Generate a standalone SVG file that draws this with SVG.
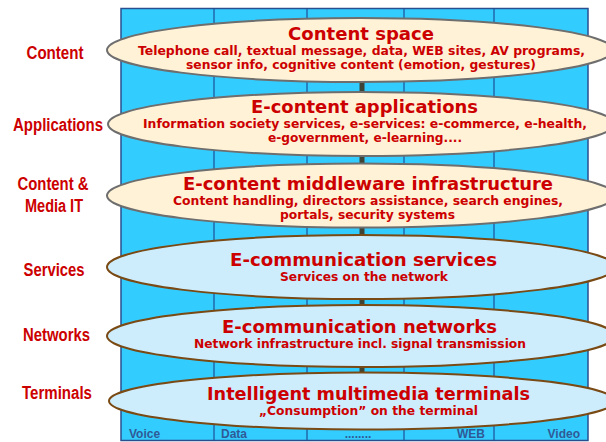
<svg xmlns="http://www.w3.org/2000/svg" width="606" height="442" viewBox="0 0 606 442">
<style>
.lbl{font-family:"Liberation Sans",Arial,sans-serif;font-weight:bold;font-size:18px;fill:#cc0000;text-anchor:middle}
.ttl{font-family:"DejaVu Sans",Verdana,sans-serif;font-weight:bold;font-size:18px;fill:#cc0000;text-anchor:middle}
.sub{font-family:"DejaVu Sans",Verdana,sans-serif;font-weight:bold;font-size:12.5px;fill:#cc0000;text-anchor:middle}
.col{font-family:"Liberation Sans",Arial,sans-serif;font-weight:bold;font-size:12px;fill:#2f5a96}
.warm{fill:#fff2d6;stroke:#6e6e6e;stroke-width:2}
.cool{fill:#cdecfc;stroke:#7a4a14;stroke-width:2}
.colline{stroke:#1f4f96;stroke-width:1.2}
.pole{stroke:#3e4536;stroke-width:5}
</style>
<rect width="606" height="442" fill="#ffffff"/>
<g id="columns">
<rect x="121" y="8.5" width="467" height="432" fill="#33ccff" stroke="#2a4f8f" stroke-width="1.5"/>
<line class="colline" x1="214" y1="8.5" x2="214" y2="441"/>
<line class="colline" x1="307" y1="8.5" x2="307" y2="441"/>
<line class="colline" x1="404" y1="8.5" x2="404" y2="441"/>
<line class="colline" x1="494" y1="8.5" x2="494" y2="441"/>
<text class="col" x="129" y="438">Voice</text>
<text class="col" x="221" y="438">Data</text>
<text class="col" x="358" y="438" text-anchor="middle">........</text>
<text class="col" x="485" y="438" text-anchor="end">WEB</text>
<text class="col" x="580" y="438" text-anchor="end">Video</text>
</g>
<g id="connectors">
<line class="pole" x1="362" y1="78" x2="362" y2="96"/>
<line class="pole" x1="362" y1="152" x2="362" y2="167"/>
<line class="pole" x1="362" y1="223" x2="362" y2="239"/>
<line class="pole" x1="362" y1="295" x2="362" y2="309"/>
<line class="pole" x1="362" y1="363" x2="362" y2="377"/>
</g>
<g id="labels">
<text class="lbl" x="55" y="59" textLength="57" lengthAdjust="spacingAndGlyphs">Content</text>
<text class="lbl" x="58" y="131" textLength="90" lengthAdjust="spacingAndGlyphs">Applications</text>
<text class="lbl" x="53" y="190" textLength="71" lengthAdjust="spacingAndGlyphs">Content &amp;</text>
<text class="lbl" x="54" y="212" textLength="58" lengthAdjust="spacingAndGlyphs">Media IT</text>
<text class="lbl" x="54" y="276" textLength="61" lengthAdjust="spacingAndGlyphs">Services</text>
<text class="lbl" x="56.5" y="341" textLength="67" lengthAdjust="spacingAndGlyphs">Networks</text>
<text class="lbl" x="57" y="399" textLength="70" lengthAdjust="spacingAndGlyphs">Terminals</text>
</g>
<g id="content-space">
<ellipse class="warm" cx="360" cy="50" rx="253" ry="32"/>
<text class="ttl" x="361" y="40" textLength="146" lengthAdjust="spacingAndGlyphs">Content space</text>
<text class="sub" x="361.5" y="55" textLength="447" lengthAdjust="spacingAndGlyphs">Telephone call, textual message, data, WEB sites, AV programs,</text>
<text class="sub" x="361" y="69" textLength="350" lengthAdjust="spacingAndGlyphs">sensor info, cognitive content (emotion, gestures)</text>
</g>
<g id="e-content-applications">
<ellipse class="warm" cx="361" cy="124" rx="253" ry="32"/>
<text class="ttl" x="364.5" y="113" textLength="227" lengthAdjust="spacingAndGlyphs">E-content applications</text>
<text class="sub" x="365" y="128" textLength="444" lengthAdjust="spacingAndGlyphs">Information society services, e-services: e-commerce, e-health,</text>
<text class="sub" x="365" y="142" textLength="194" lengthAdjust="spacingAndGlyphs">e-government, e-learning....</text>
</g>
<g id="e-content-middleware">
<ellipse class="warm" cx="361" cy="195.5" rx="254" ry="32"/>
<text class="ttl" x="368" y="189.5" textLength="370" lengthAdjust="spacingAndGlyphs">E-content middleware infrastructure</text>
<text class="sub" x="368" y="204.5" textLength="390" lengthAdjust="spacingAndGlyphs">Content handling, directors assistance, search engines,</text>
<text class="sub" x="367.5" y="218.5" textLength="175" lengthAdjust="spacingAndGlyphs">portals, security systems</text>
</g>
<g id="e-communication-services">
<ellipse class="cool" cx="361" cy="267" rx="254" ry="32"/>
<text class="ttl" x="363.5" y="266" textLength="267" lengthAdjust="spacingAndGlyphs">E-communication services</text>
<text class="sub" x="364" y="281" textLength="168" lengthAdjust="spacingAndGlyphs">Services on the network</text>
</g>
<g id="e-communication-networks">
<ellipse class="cool" cx="361" cy="336" rx="254" ry="31"/>
<text class="ttl" x="359.5" y="333" textLength="275" lengthAdjust="spacingAndGlyphs">E-communication networks</text>
<text class="sub" x="360" y="348" textLength="332" lengthAdjust="spacingAndGlyphs">Network infrastructure incl. signal transmission</text>
</g>
<g id="intelligent-terminals">
<ellipse class="cool" cx="362" cy="401" rx="253" ry="28.5"/>
<text class="ttl" x="368.5" y="400" textLength="323" lengthAdjust="spacingAndGlyphs">Intelligent multimedia terminals</text>
<text class="sub" x="368.5" y="415" textLength="219" lengthAdjust="spacingAndGlyphs">„Consumption” on the terminal</text>
</g>
</svg>
